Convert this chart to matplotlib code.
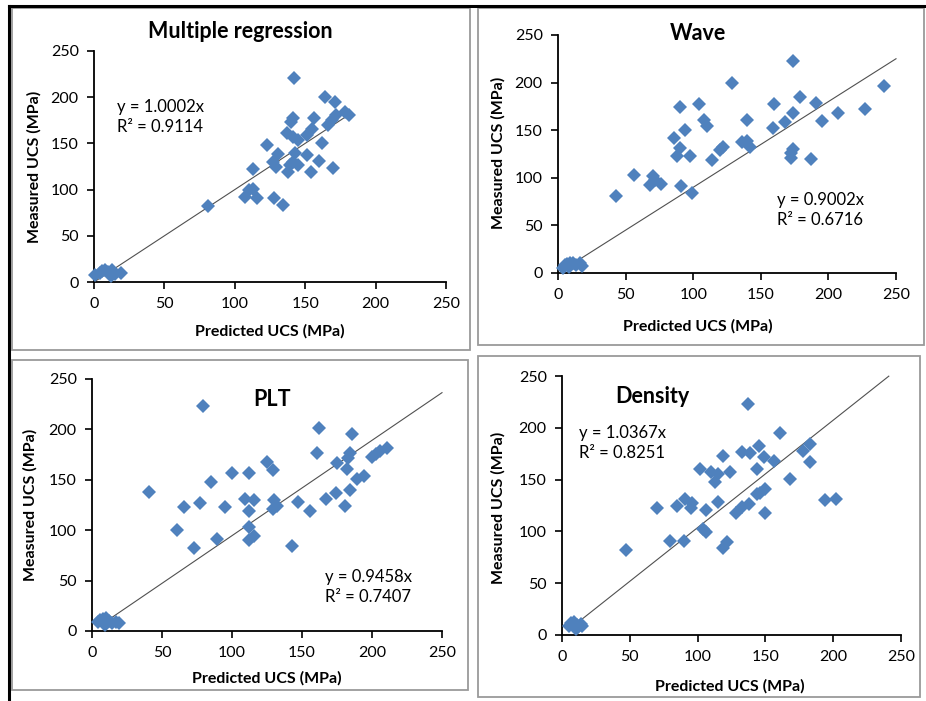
import matplotlib
matplotlib.use("Agg")
import matplotlib.pyplot as plt
from matplotlib.patches import Rectangle
from matplotlib.lines import Line2D

plt.rcParams['font.family'] = ['Lato', 'DejaVu Sans']

# === data ===
titles = ["Multiple regression", "Wave", "PLT", "Density"]
equations = ["y = 1.0002x", "y = 0.9002x", "y = 0.9458x", "y = 1.0367x"]
r2_texts = ["R² = 0.9114", "R² = 0.6716", "R² = 0.7407", "R² = 0.8251"]
slopes = [1.0002, 0.9002, 0.9458, 1.0367]
trend_end = [181, 250, 250, 241]
ticks = [0, 50, 100, 150, 200, 250]

mr_pred = [1, 4, 6, 8, 10, 12, 13, 15, 19,
           81, 107, 110, 113, 116, 128, 134, 113, 123, 127, 129, 131, 137, 138,
           139, 140, 141, 141, 141, 142, 143, 145, 145, 151, 151, 154, 155, 156,
           160, 162, 164, 166, 169, 170, 171, 172, 178, 181]
mr_meas = [8, 10, 12, 13, 11, 6, 13, 9, 10,
           82, 92, 100, 101, 91, 91, 83, 122, 148, 130, 125, 139, 161, 119,
           127, 173, 178, 130, 157, 221, 140, 127, 154, 137, 159, 119, 166, 177,
           131, 150, 200, 170, 175, 123, 195, 181, 184, 181]

wave_pred = [4, 5, 7, 8, 9, 11, 13, 16, 18,
             43, 56, 68, 70, 72, 76, 86, 88, 90, 90, 91, 94, 98, 99, 104, 108,
             110, 114, 120, 122, 129, 136, 140, 140, 142, 159, 160, 168, 172,
             172, 174, 174, 174, 179, 187, 191, 195, 207, 227, 241]
wave_meas = [5, 8, 9, 6, 11, 10, 8, 11, 7,
             81, 103, 92, 102, 98, 94, 142, 123, 131, 174, 91, 150, 123, 84, 178, 161,
             154, 119, 129, 132, 200, 138, 139, 161, 132, 152, 177, 159, 121,
             126, 130, 168, 223, 185, 120, 179, 160, 168, 172, 196]

plt_pred = [4, 6, 8, 9, 10, 12, 14, 17, 19,
            41, 61, 66, 73, 77, 79, 85, 89, 95, 100, 109, 112, 112, 112, 112,
            116, 116, 125, 129, 129, 130, 132, 143, 147, 156, 161, 162, 167,
            174, 175, 181, 182, 183, 184, 184, 186, 189, 194, 200, 203, 206, 211]
plt_meas = [9, 11, 12, 6, 13, 10, 8, 9, 8,
            138, 100, 123, 82, 127, 223, 148, 91, 123, 157, 131, 157, 119, 103, 90,
            94, 130, 168, 160, 121, 130, 124, 84, 128, 119, 177, 201, 131,
            137, 167, 124, 161, 172, 177, 140, 195, 151, 154, 173, 176, 179, 182]

den_pred = [5, 7, 9, 10, 11, 12, 14, 15,
            47, 70, 80, 85, 90, 91, 95, 96, 102, 104, 106, 106, 110, 113, 115,
            115, 119, 119, 122, 124, 128, 133, 133, 138, 137, 139, 144, 144, 145,
            146, 149, 150, 150, 156, 161, 168, 178, 183, 183, 194, 202]
den_meas = [9, 12, 13, 6, 10, 8, 11, 9,
            82, 123, 91, 125, 91, 131, 123, 127, 160, 102, 99, 121, 157, 148, 128,
            155, 84, 173, 90, 157, 118, 124, 177, 126, 223, 176, 136, 160, 182,
            137, 172, 141, 118, 168, 195, 151, 178, 184, 167, 130, 131]

preds = [mr_pred, wave_pred, plt_pred, den_pred]
meas = [mr_meas, wave_meas, plt_meas, den_meas]

# === layout (pixels of a 926x701 canvas) ===
W, H = 926, 701
# axes: left, right, top, bottom of the 0..250 range
axes_px = [(94, 446, 51, 282), (558, 896, 35, 273),
           (92, 442, 379, 631), (562, 901, 376, 635)]
boxes_px = [(12, 470, 8, 350), (478, 924, 8, 345),
            (12, 468, 360, 690), (478, 920, 356, 697)]
title_px = [(240, 31), (698, 33), (272, 399), (652, 397)]
eq_px = [(117, 117), (777, 210), (325, 587), (579, 443)]
xlab_px = [(270, 331), (698, 326), (267, 678), (730, 686)]
ylab_px = [(34, 167), (498, 153), (30, 505), (498, 508)]

blue = "#4F81BD"

fig = plt.figure(figsize=(W / 100, H / 100), dpi=100)


def fx(px):
    return px / W


def fy(py):
    return 1 - py / H


# panel frames
for (l, r, t, b) in boxes_px:
    fig.add_artist(Rectangle((fx(l), fy(b)), fx(r) - fx(l), fy(t) - fy(b),
                             transform=fig.transFigure, fill=False,
                             edgecolor="#9A9A9A", lw=1.3))
# dark outer edge on top and left
fig.add_artist(Line2D([fx(9), fx(926)], [fy(6), fy(6)], transform=fig.transFigure,
                      color="black", lw=2.2))
fig.add_artist(Line2D([fx(9), fx(9)], [fy(6), fy(701)], transform=fig.transFigure,
                      color="black", lw=2.2))

for i in range(4):
    l, r, t, b = axes_px[i]
    ax = fig.add_axes([fx(l), fy(b), fx(r) - fx(l), fy(t) - fy(b)])
    ax.set_xlim(0, 250)
    ax.set_ylim(0, 250)
    ax.set_xticks(ticks)
    ax.set_yticks(ticks)
    ax.spines['top'].set_visible(False)
    ax.spines['right'].set_visible(False)
    for s in ['left', 'bottom']:
        ax.spines[s].set_linewidth(1.3)
    ax.tick_params(direction='out', length=5, width=1.2, labelsize=11.5, pad=6)
    ax.patch.set_alpha(0)

    x0 = min(preds[i])
    x1 = trend_end[i]
    ax.plot([x0, x1], [slopes[i] * x0, slopes[i] * x1], color="#505050",
            lw=0.8, zorder=2, clip_on=False)
    ax.plot(preds[i], meas[i], linestyle='none', marker='D', ms=7,
            color=blue, markeredgewidth=0, zorder=3, clip_on=False)

    fig.text(fx(title_px[i][0]), fy(title_px[i][1]), titles[i], ha='center',
             va='center', fontsize=15.5, fontweight='bold')
    fig.text(fx(eq_px[i][0]), fy(eq_px[i][1]), equations[i] + "\n" + r2_texts[i],
             ha='left', va='center', fontsize=12, linespacing=1.25)
    fig.text(fx(xlab_px[i][0]), fy(xlab_px[i][1]), "Predicted UCS (MPa)",
             ha='center', va='center', fontsize=11.5, fontweight='bold')
    fig.text(fx(ylab_px[i][0]), fy(ylab_px[i][1]), "Measured UCS (MPa)",
             ha='center', va='center', fontsize=11.5, fontweight='bold',
             rotation=90)

fig.savefig("out.png", dpi=100)
